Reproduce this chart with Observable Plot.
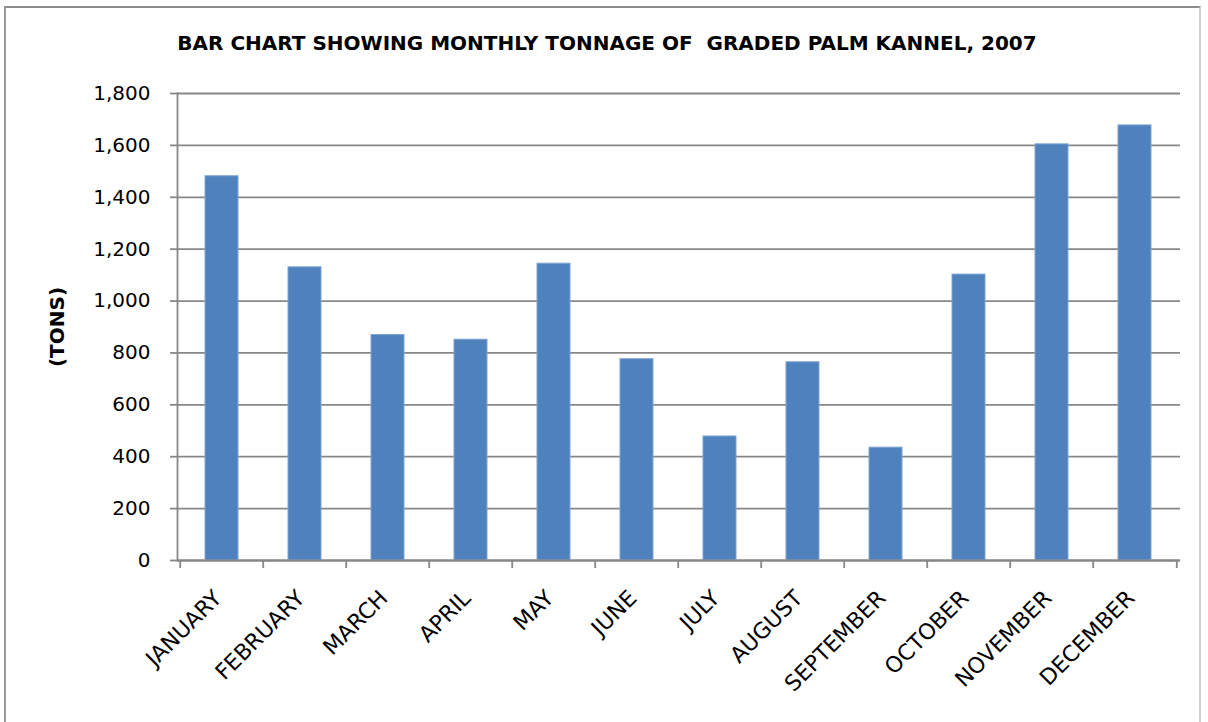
<!DOCTYPE html>
<html>
<head>
<meta charset="utf-8">
<script src="https://cdn.jsdelivr.net/npm/d3@7"></script>
<script src="https://cdn.jsdelivr.net/npm/@observablehq/plot@0.6"></script>
<style>
  body { margin: 0; background: #fff; }
  #wrap { position: relative; width: 1208px; height: 722px; overflow: hidden; font-family: "DejaVu Sans", sans-serif; background: #fff; }
  #border { position: absolute; left: 4px; top: 6px; width: 1197px; height: 760px; border-top: 2px solid #8c8c8c; border-left: 2px solid #9a9a9a; border-right: 2px solid #d4d4d4; box-sizing: border-box; }
  #title { position: absolute; left: 107px; top: 33px; width: 1000px; text-align: center; font-weight: bold; font-size: 20px; line-height: 20px; color: #000; white-space: pre; }
  #chart { position: absolute; left: 0; top: 0; }
</style>
</head>
<body>
<div id="wrap">
  <div id="chart"></div>
  <div id="border"></div>
  <div id="title">BAR CHART SHOWING MONTHLY TONNAGE OF  GRADED PALM KANNEL, 2007</div>
</div>
<script>
const months = ["JANUARY", "FEBRUARY", "MARCH", "APRIL", "MAY", "JUNE", "JULY", "AUGUST", "SEPTEMBER", "OCTOBER", "NOVEMBER", "DECEMBER"];
const tons = [1481, 1130, 869, 851, 1144, 776, 478, 764, 435, 1102, 1604, 1677];
const yTicks = [0, 200, 400, 600, 800, 1000, 1200, 1400, 1600, 1800];
const yLabel = "(TONS)";

const data = months.map((m, i) => ({month: m, tons: tons[i]}));

const W = 1208, H = 722, ML = 177, MR = 28, MT = 93, MB = 162;
const step = (W - ML - MR) / months.length;
const gridColor = "#878787";

const chart = Plot.plot({
  width: W,
  height: H,
  marginLeft: ML,
  marginRight: MR,
  marginTop: MT,
  marginBottom: MB,
  style: {fontFamily: "DejaVu Sans, sans-serif", fontSize: "19px", color: "#000", background: "transparent", overflow: "visible"},
  x: {domain: months, paddingInner: 0.6, paddingOuter: 0.3, axis: null},
  y: {domain: [0, 1800], axis: null},
  marks: [
    Plot.gridY(yTicks, {stroke: gridColor, strokeOpacity: 1, strokeWidth: 1.8}),
    Plot.axisY(yTicks, {tickFormat: d3.format(","), tickSize: 7, tickPadding: 20, stroke: gridColor, strokeOpacity: 1, strokeWidth: 1.8, fontSize: 20, label: null}),
    Plot.barY(data, {x: "month", y: "tons", fill: "#4F81BD", stroke: "#7fa4d0", strokeWidth: 1}),
    Plot.ruleY([0], {stroke: gridColor, strokeWidth: 1.8}),
    Plot.ruleX(months, {x: d => d, y1: 0, y2: 0, dx: -step / 2, insetBottom: -8, stroke: gridColor, strokeWidth: 1.8}),
    Plot.ruleX([months[months.length - 1]], {x: d => d, y1: 0, y2: 0, dx: step / 2, insetBottom: -8, stroke: gridColor, strokeWidth: 1.8}),
    Plot.frame({anchor: "left", stroke: gridColor, strokeWidth: 1.8}),
    Plot.axisX({tickRotate: -45, tickSize: 0, tickPadding: 34, dx: -4, fontSize: 22, textAnchor: "end", label: null}),
    Plot.text([yLabel], {text: d => d, frameAnchor: "left", textAnchor: "middle", dx: -120, rotate: -90, fontWeight: "bold", fontSize: 20, fill: "#000"})
  ]
});
document.getElementById("chart").appendChild(chart);
</script>
</body>
</html>
